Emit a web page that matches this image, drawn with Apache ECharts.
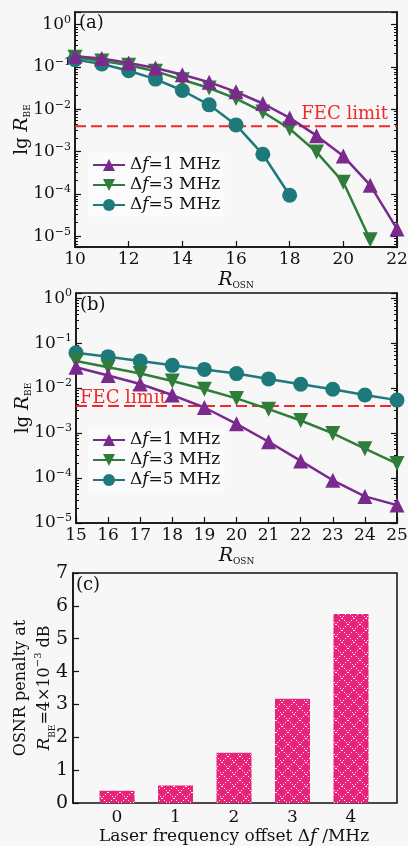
<!DOCTYPE html>
<html>
<head>
<meta charset="utf-8">
<script src="https://cdn.jsdelivr.net/npm/echarts@6/dist/echarts.min.js"></script>
<style>
html,body{margin:0;padding:0;background:#f7f7f7}
#chart{width:408px;height:846px}
</style>
</head>
<body>
<div id="chart"></div>
<script>
// panel (a)
var osnrA = [10, 11, 12, 13, 14, 15, 16, 17, 18, 19, 20, 21, 22];
var berA1 = [0.18, 0.16, 0.125, 0.095, 0.066, 0.044, 0.026, 0.0138, 0.0063, 0.0024, 0.00079, 0.000162, 0.000015];
var berA3 = [0.17, 0.14, 0.11, 0.08, 0.05, 0.032, 0.018, 0.0087, 0.0035, 0.00098, 0.00019, 0.0000083];
var berA5 = [0.15, 0.118, 0.082, 0.052, 0.028, 0.0128, 0.0043, 0.00087, 0.000094];
// panel (b)
var osnrB = [15, 16, 17, 18, 19, 20, 21, 22, 23, 24, 25];
var berB1 = [0.029, 0.019, 0.0123, 0.0070, 0.0037, 0.0016, 0.00064, 0.00024, 0.000089, 0.000039, 0.000025];
var berB3 = [0.040, 0.029, 0.021, 0.0144, 0.0094, 0.0059, 0.0034, 0.0019, 0.00098, 0.00045, 0.00021];
var berB5 = [0.061, 0.050, 0.040, 0.032, 0.026, 0.021, 0.016, 0.0122, 0.0094, 0.0070, 0.0054];
// panel (c)
var offsets = ['0', '1', '2', '3', '4'];
var penalty = [0.37, 0.53, 1.53, 3.17, 5.75];
var fecLimit = 0.004;
var seriesNames = ['Δf=1 MHz', 'Δf=3 MHz', 'Δf=5 MHz'];

var serif = 'DejaVu Serif';
var colors = ['#7a2a8c', '#2f7d3a', '#1e7a7a'];
var red = '#ee2a2a';

function pairs(xs, ys) {
  var out = [];
  for (var i = 0; i < ys.length; i++) out.push([xs[i], ys[i]]);
  return out;
}

function powLabel(v) {
  var e = Math.round(Math.log(v) / Math.LN10);
  return '{b|10}{s|' + (e < 0 ? '\u2212' + (-e) : e) + '}';
}

var richPow = {
  b: {fontSize: 17, fontFamily: serif, color: '#111', lineHeight: 20},
  s: {fontSize: 11, fontFamily: serif, color: '#111', lineHeight: 8, verticalAlign: 'top'}
};
var richName = {
  t: {fontSize: 16, fontFamily: serif, color: '#111'},
  i: {fontSize: 17, fontFamily: serif, fontStyle: 'italic', color: '#111'},
  sub: {fontSize: 9, fontFamily: serif, color: '#111', verticalAlign: 'bottom', lineHeight: 12, padding: [7, 0, 0, 0]},
  sup: {fontSize: 10, fontFamily: serif, color: '#111', verticalAlign: 'top', lineHeight: 9}
};

// crosshatch fill for the bars
var hatch = document.createElement('canvas');
hatch.width = 12; hatch.height = 12;
var hc = hatch.getContext('2d');
hc.fillStyle = '#e8237a';
hc.fillRect(0, 0, 12, 12);
hc.fillStyle = 'rgba(255,255,255,0.9)';
for (var k = 0; k < 12; k += 2) {
  hc.fillRect(k, k, 1, 1);
  hc.fillRect(11 - k, k, 1, 1);
}

function logY(idx, min, max, showMin, pos) {
  return {
    type: 'log', logBase: 10, gridIndex: idx, min: min, max: max, position: pos,
    axisLine: {show: true, lineStyle: {color: '#111', width: 1.5}},
    axisTick: {show: true, inside: true, length: 6, lineStyle: {color: '#111', width: 1.2}},
    minorTick: {show: true, splitNumber: 8, length: 3, lineStyle: {color: '#111'}},
    splitLine: {show: false},
    axisLabel: pos === 'right' ? {show: false} : {
      formatter: powLabel, rich: richPow, margin: 4,
      showMinLabel: showMin, showMaxLabel: false
    },
    name: pos === 'right' ? '' : '{t|lg }{i|R}{sub|BE}',
    nameLocation: 'middle', nameRotate: 90, nameGap: 43, nameMoveOverlap: false,
    nameTextStyle: {rich: {
      t: {fontSize: 18, fontFamily: serif, color: '#111'},
      i: {fontSize: 19, fontFamily: serif, fontStyle: 'italic', color: '#111'},
      sub: richName.sub
    }}
  };
}

function valX(idx, min, max, interval) {
  return {
    type: 'value', gridIndex: idx, min: min, max: max, interval: interval,
    axisLine: {show: true, onZero: false, lineStyle: {color: '#111', width: 1.5}},
    axisTick: {show: true, inside: true, length: 6, lineStyle: {color: '#111', width: 1.2}},
    splitLine: {show: false},
    axisLabel: {fontSize: 17, fontFamily: serif, color: '#111', margin: 4},
    name: '{i|R}{sub|OSN}', nameLocation: 'middle', nameGap: 24,
    nameTextStyle: {rich: {
      i: {fontSize: 19, fontFamily: serif, fontStyle: 'italic', color: '#111'},
      sub: richName.sub
    }}
  };
}

function lineSeries(name, xi, yi, data, ci, symbol, rotate) {
  return {
    name: name, type: 'line', xAxisIndex: xi, yAxisIndex: yi, data: data,
    symbol: symbol, symbolSize: 15, symbolRotate: rotate,
    lineStyle: {color: colors[ci], width: 2.5},
    itemStyle: {color: colors[ci]},
    z: 5 - ci
  };
}

// dashed FEC threshold drawn as its own two-point series
function fecSeries(xi, yi, x0, x1, labelAtEnd) {
  var lab = {show: true, formatter: 'FEC limit', color: red, fontSize: 18, fontFamily: serif,
    position: labelAtEnd ? 'left' : 'right', distance: 0,
    offset: labelAtEnd ? [-9, -12] : [4, -8]};
  var d0 = {value: [x0, fecLimit]};
  var d1 = {value: [x1, fecLimit]};
  if (labelAtEnd) d1.label = lab; else d0.label = lab;
  return {
    name: 'FEC limit', type: 'line', xAxisIndex: xi, yAxisIndex: yi, data: [d0, d1],
    symbol: 'circle', symbolSize: 0, showAllSymbol: true, silent: true, z: 2,
    itemStyle: {color: 'rgba(0,0,0,0)'},
    lineStyle: {color: red, type: [11, 5], width: 2}
  };
}

function legendAt(top) {
  return {
    left: 88, top: top, orient: 'vertical', itemWidth: 32, itemHeight: 15, itemGap: 2,
    data: seriesNames, selectedMode: false,
    backgroundColor: 'rgba(255,255,255,0.55)', padding: [3, 4, 3, 4],
    formatter: function (n) {
      return '{g|Δ}{i|f}{g|' + n.slice(2) + '}';
    },
    textStyle: {lineHeight: 18, rich: {
      g: {fontSize: 17, fontFamily: serif, color: '#111', lineHeight: 18},
      i: {fontSize: 17, fontFamily: serif, fontStyle: 'italic', color: '#111', lineHeight: 18}
    }}
  };
}

var richBig = {
  t: {fontSize: 17, fontFamily: serif, color: '#111'},
  i: {fontSize: 18, fontFamily: serif, fontStyle: 'italic', color: '#111'}
};

function frame(left, top, width, height) {
  return {left: left, top: top, width: width, height: height, show: true,
    borderColor: '#111', borderWidth: 1.5, backgroundColor: 'transparent',
    outerBoundsMode: 'none', containLabel: false};
}

var chart = echarts.init(document.getElementById('chart'));
chart.setOption({
  backgroundColor: '#f7f7f7',
  animation: false,
  grid: [
    frame(75, 12, 322, 235),
    frame(76, 293, 321, 230),
    // frame of panel (c)
    frame(73, 573, 324, 230),
    // bar band of panel (c), narrower than the frame
    {left: 87.75, top: 573, width: 292.5, height: 230, outerBoundsMode: 'none', containLabel: false}
  ],
  xAxis: [
    valX(0, 10, 22, 2), valX(1, 15, 25, 1),
    {type: 'value', gridIndex: 2, min: 0, max: 1, show: false},
    {
      type: 'category', gridIndex: 3, data: offsets,
      axisLine: {show: false}, axisTick: {show: false}, splitLine: {show: false},
      axisLabel: {fontSize: 17, fontFamily: serif, color: '#111', margin: 6},
      name: '{t|Laser frequency offset Δ}{i|f}{t| /MHz}', nameLocation: 'middle', nameGap: 25,
      nameTextStyle: {rich: richBig}
    }
  ],
  yAxis: [
    logY(0, 5.62e-6, 2, false, 'left'), logY(0, 5.62e-6, 2, false, 'right'),
    logY(1, 1e-5, 1.3, true, 'left'), logY(1, 1e-5, 1.3, true, 'right'),
    {
      type: 'value', gridIndex: 2, min: 0, max: 7, interval: 1,
      axisLine: {show: true, onZero: false, lineStyle: {color: '#111', width: 1.5}},
      axisTick: {show: true, inside: true, length: 6, lineStyle: {color: '#111', width: 1.2}},
      splitLine: {show: false},
      axisLabel: {fontSize: 19, fontFamily: serif, color: '#111', margin: 5},
      name: '{t|OSNR penalty at}\n{i|R}{sub|BE}{t|=4×10}{sup|\u22123}{t| dB}',
      nameLocation: 'middle', nameRotate: 90, nameGap: 16, nameMoveOverlap: false,
      nameTextStyle: {rich: richName, lineHeight: 24}
    },
    {type: 'value', gridIndex: 3, min: 0, max: 7, show: false}
  ],
  legend: [legendAt(153), legendAt(428)],
  graphic: [
    {type: 'text', left: 79, top: 14, style: {text: '(a)', fontSize: 18, fontFamily: serif, fill: '#111'}},
    {type: 'text', left: 80, top: 296, style: {text: '(b)', fontSize: 18, fontFamily: serif, fill: '#111'}},
    {type: 'text', left: 76, top: 576, style: {text: '(c)', fontSize: 18, fontFamily: serif, fill: '#111'}}
  ],
  series: [
    fecSeries(0, 0, 10, 22, true),
    lineSeries(seriesNames[2], 0, 0, pairs(osnrA, berA5), 2, 'circle', 0),
    lineSeries(seriesNames[1], 0, 0, pairs(osnrA, berA3), 1, 'triangle', 180),
    lineSeries(seriesNames[0], 0, 0, pairs(osnrA, berA1), 0, 'triangle', 0),
    fecSeries(1, 2, 15, 25, false),
    lineSeries(seriesNames[2], 1, 2, pairs(osnrB, berB5), 2, 'circle', 0),
    lineSeries(seriesNames[1], 1, 2, pairs(osnrB, berB3), 1, 'triangle', 180),
    lineSeries(seriesNames[0], 1, 2, pairs(osnrB, berB1), 0, 'triangle', 0),
    {
      name: 'penalty', type: 'bar', xAxisIndex: 3, yAxisIndex: 5, barWidth: 35,
      data: penalty,
      itemStyle: {color: {image: hatch, repeat: 'repeat'}}
    }
  ]
});
</script>
</body>
</html>
